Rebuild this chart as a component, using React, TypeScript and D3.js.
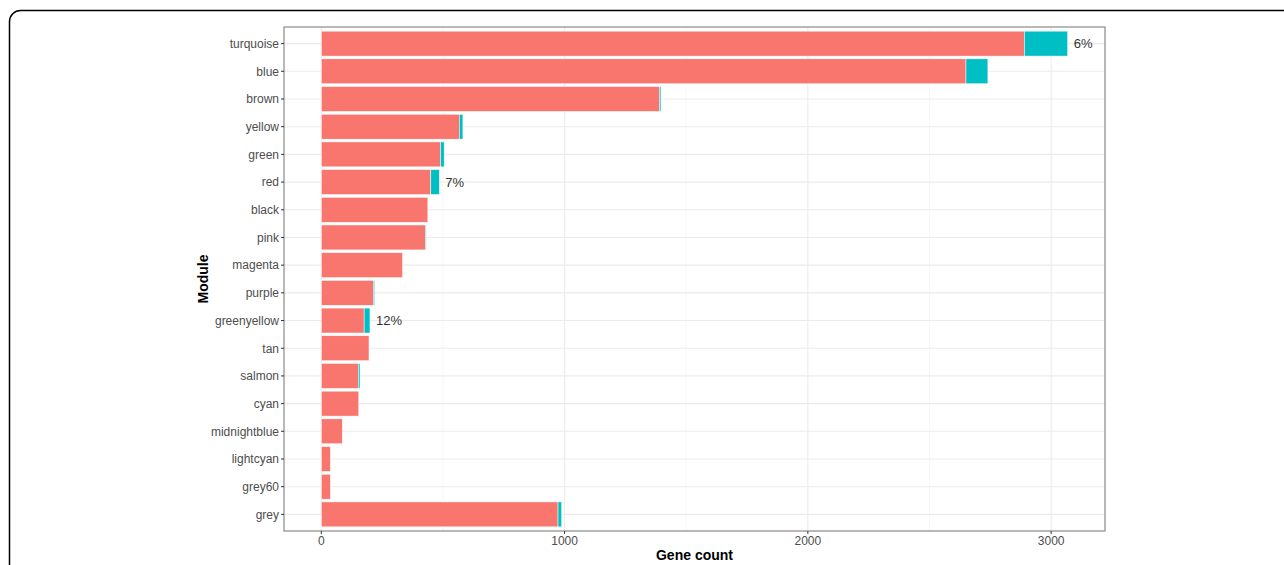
import React from "react";
import * as d3 from "d3";

const modules = ["turquoise","blue","brown","yellow","green","red","black","pink","magenta","purple","greenyellow","tan","salmon","cyan","midnightblue","lightcyan","grey60","grey"];
const notSig = [2890,2650,1390,567,490,450,438,428,334,214,176,196,152,154,86,37,37,973];
const sig = [178,90,6,15,15,35,0,3,0,5,24,0,7,0,0,0,0,15];
const pctLabels = ["6%","","","","","7%","","","","","12%","","","","","","",""];
const xTicks = [0,1000,2000,3000];
const xMinor = [500,1500,2500];

const W = 1284, H = 565;
const panel = { left: 284, top: 27, right: 1105, bottom: 531 };
const colNot = "#F8766D", colSig = "#00BFC4";
const font = "'Liberation Sans', Arial, sans-serif";

export default function App() {
  const totals = notSig.map((v, i) => v + sig[i]);
  const maxV = d3.max(totals) as number;
  const pad = maxV * 0.05;
  const x = d3.scaleLinear().domain([-pad, maxV + pad]).range([panel.left, panel.right]);
  const n = modules.length;
  const yc = d3.scaleLinear().domain([0.4, n + 0.6]).range([panel.top, panel.bottom]);
  const bw = (yc(1) - yc(0)) * 0.9;
  return (
    <svg width={W} height={H} style={{ position: "absolute", left: 0, top: 0, background: "#fff" }} fontFamily={font}>
      <rect x={9.5} y={10.5} width={1320} height={620} rx={11} fill="#fff" stroke="#000" strokeWidth={1.5} />
      <rect x={panel.left} y={panel.top} width={panel.right - panel.left} height={panel.bottom - panel.top} fill="#fff" />
      {xMinor.map(t => (
        <line key={"m" + t} x1={x(t)} x2={x(t)} y1={panel.top} y2={panel.bottom} stroke="#F2F2F2" strokeWidth={0.6} />
      ))}
      {xTicks.map(t => (
        <line key={"g" + t} x1={x(t)} x2={x(t)} y1={panel.top} y2={panel.bottom} stroke="#EBEBEB" strokeWidth={1.1} />
      ))}
      {modules.map((m, i) => (
        <line key={"h" + m} x1={panel.left} x2={panel.right} y1={yc(i + 1)} y2={yc(i + 1)} stroke="#EBEBEB" strokeWidth={1.1} />
      ))}
      {modules.map((m, i) => {
        const yTop = yc(i + 1) - bw / 2;
        return (
          <g key={"b" + m}>
            <rect x={x(0)} y={yTop} width={x(notSig[i]) - x(0)} height={bw} fill={colNot} stroke="#fff" strokeWidth={0.5} />
            {sig[i] > 0 && (
              <rect x={x(notSig[i])} y={yTop} width={x(totals[i]) - x(notSig[i])} height={bw} fill={colSig} stroke="#fff" strokeWidth={0.5} />
            )}
            {pctLabels[i] && (
              <text x={x(totals[i]) + 6} y={yc(i + 1)} dy="0.36em" fontSize={13} fill="#333">{pctLabels[i]}</text>
            )}
          </g>
        );
      })}
      <rect x={panel.left} y={panel.top} width={panel.right - panel.left} height={panel.bottom - panel.top} fill="none" stroke="#7F7F7F" strokeWidth={1.1} />
      {modules.map((m, i) => (
        <g key={"yt" + m}>
          <line x1={panel.left - 3} x2={panel.left} y1={yc(i + 1)} y2={yc(i + 1)} stroke="#333" strokeWidth={1} />
          <text x={panel.left - 5} y={yc(i + 1)} dy="0.36em" textAnchor="end" fontSize={12} fill="#4D4D4D">{m}</text>
        </g>
      ))}
      {xTicks.map(t => (
        <g key={"xt" + t}>
          <line x1={x(t)} x2={x(t)} y1={panel.bottom} y2={panel.bottom + 3} stroke="#333" strokeWidth={1} />
          <text x={x(t)} y={panel.bottom + 14} textAnchor="middle" fontSize={12} fill="#4D4D4D">{t}</text>
        </g>
      ))}
      <text x={(panel.left + panel.right) / 2} y={560} textAnchor="middle" fontSize={14} fontWeight="bold" fill="#000">Gene count</text>
      <text transform={`translate(208,${(panel.top + panel.bottom) / 2}) rotate(-90)`} textAnchor="middle" fontSize={14} fontWeight="bold" fill="#000">Module</text>
    </svg>
  );
}
